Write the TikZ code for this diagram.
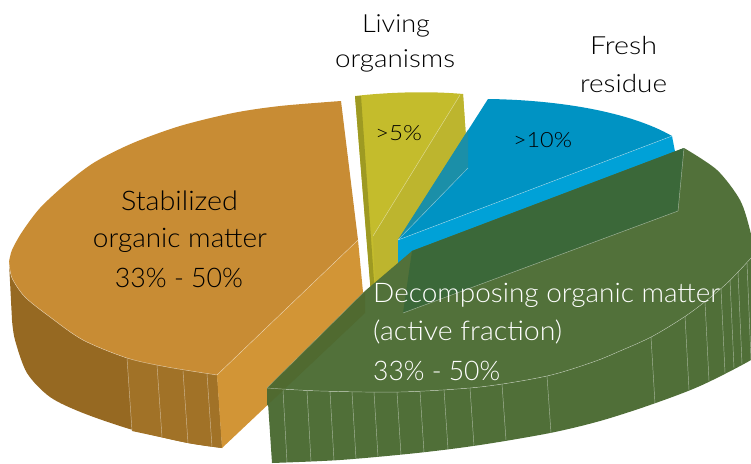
\documentclass[tikz,border=0pt]{standalone}
\usepackage{fontspec}
\usepackage{graphicx}
\IfFontExistsTF{Lato Light}{\setmainfont{Lato Light}}{\setmainfont{Lato}}
\newcommand{\fitw}[2]{\resizebox{#1}{\height}{#2}}
\definecolor{orTop}{HTML}{C88C34}
\definecolor{orSide}{HTML}{D29536}
\definecolor{orWall}{HTML}{966922}
\definecolor{orWallL}{HTML}{A17227}
\definecolor{yelTop}{HTML}{C4BC2C}
\definecolor{yelSide}{HTML}{BDB52E}
\definecolor{yelStrip}{HTML}{9E9A22}
\definecolor{bluTop}{HTML}{0093C3}
\definecolor{bluStrip}{HTML}{00A1D7}
\definecolor{bluOver}{HTML}{1B8FA8}
\definecolor{grTop}{HTML}{52713A}
\definecolor{grDark}{HTML}{3B6839}
\definecolor{grWall}{HTML}{506F38}
\definecolor{grBand}{HTML}{506A30}
\begin{document}
\begin{tikzpicture}[x=1pt,y=-1pt,
  edge/.style={white, line width=0.45pt, opacity=0.5},
  big/.style={font=\fontsize{27}{30}\selectfont, inner sep=0pt, text=black},
  toplbl/.style={font=\fontsize{25}{28}\selectfont, inner sep=0pt, text=black},
  small/.style={font=\fontsize{21}{24}\selectfont, inner sep=0pt, text=black},
  bigw/.style={big, text=white}]
\useasboundingbox (0,0) rectangle (751,463);

% ---------- yellow slice (Living organisms)
\fill[yelTop] (355,96) .. controls (390,92) and (430,91) .. (463,94) -- (468,168) -- (398,240) -- (398,305) -- (372,305) -- cycle;
\fill[yelSide] (460,95) -- (463,94) -- (468,168) -- (398,240) -- (398,305) -- (376,305) -- (373,236) -- cycle;
\fill[yelStrip] (355,96) -- (361,96) -- (375,295) -- (371,295) -- cycle;
\draw[edge] (460,95) -- (373,236);

% ---------- blue slice (Fresh residue)
\fill[bluStrip] (672,136) -- (677,162) -- (398,268) -- (398,240) -- cycle;
\fill[bluTop] (488,99) .. controls (560,100) and (630,112) .. (672,136) -- (398,240) -- cycle;
\fill[bluOver] (468,130) -- (468,168) -- (398,240) -- cycle;
\draw[edge] (672,136) -- (398,240);
\draw[edge] (468,168) -- (398,240);

% ---------- orange slice (Stabilized organic matter)
\fill[orWall] plot[smooth] coordinates {(9,262) (12,278) (25,297) (50,317) (83,340) (127,358) (167,367) (217,375)}
  -- (222,448) -- plot[smooth] coordinates {(222,448) (188,443) (133,430) (83,413) (50,397) (27,373) (15,340) (12,320)} -- cycle;
\fill[orWallL] plot[smooth] coordinates {(127,358) (167,367) (217,375)} -- (222,448)
  -- plot[smooth] coordinates {(222,448) (188,443) (160,437) (132,431)} -- cycle;
\foreach \xa/\ya/\xb/\yb in {127/358/132/431, 157/365/162/437, 183/371/188/443, 207/374/212/447}
  \draw[edge] (\xa,\ya) -- (\xb,\yb);
\fill[orTop] plot[smooth] coordinates {(341,101) (280,106) (233,113) (180,126) (133,143) (95,162) (67,183) (40,208) (22,232) (12,250) (9,262)}
  -- plot[smooth] coordinates {(9,262) (12,278) (25,297) (50,317) (83,340) (127,358) (167,367) (217,375)}
  -- (358,240) -- cycle;
\fill[orSide] (217,375) -- (358,240) -- (365,313) -- (222,448) -- cycle;
\draw[edge] plot[smooth] coordinates {(9,262) (12,278) (25,297) (50,317) (83,340) (127,358) (167,367) (217,375)};
\draw[edge] (217,375) -- (358,240);

% ---------- green slice (Decomposing organic matter)
\fill[grWall] plot[smooth] coordinates {(754,252) (751,258) (725,285) (690,313) (653,336) (620,351) (593,362) (547,376) (480,387) (400,392) (320,391) (267,388)}
  -- (272,463) -- plot[smooth] coordinates {(272,463) (340,460) (417,453) (480,445) (550,433) (600,421) (650,405) (700,386) (751,360) (770,345)}
  -- (770,252) -- cycle;
\foreach \xa/\ya/\xb/\yb in {283/390/287/462.5, 307/391/311/461.5, 330/391.5/334/460.5, 352/392/356/459,
  374/392/378/457, 397/392/401/455, 420/391/424/452.5, 444/389.5/448/449, 470/388/474/446, 502/384/506/440,
  547/376/551/433, 651/337/655/404, 685/316/689/390, 705/302/709/381, 721/289/725/373, 730/280/734/368,
  738/272/742/364, 747/263/751/360}
  \draw[edge] (\xa,\ya) -- (\xb,\yb);
\fill[grTop] (267,388) -- (365,291) -- (412,251) -- (684,148)
  -- plot[smooth] coordinates {(684,148) (717,170) (740,200) (750,230) (754,252)}
  -- plot[smooth] coordinates {(754,252) (751,258) (725,285) (690,313) (653,336) (620,351) (593,362) (547,376) (480,387) (400,392) (320,391) (267,388)}
  -- cycle;
\fill[grDark] (412,251) -- (684,148) -- (678,211) -- (403,313) -- cycle;
\draw[edge] (684,148) -- (678,211) -- (403,313);
\fill[grBand] (267,388) -- (365,291) -- (365,313) -- (267,405.5) -- cycle;
\draw[edge] plot[smooth] coordinates {(751,258) (725,285) (690,313) (653,336) (620,351) (593,362) (547,376) (480,387) (400,392) (320,391) (267,388)};
\draw[edge, opacity=0.3] (267,388) -- (365,291);

% ---------- labels
\node[toplbl, anchor=base] (liv1) at (396,32) {\fitw{68pt}{Living}};
\node[toplbl, anchor=base] (liv2) at (395,67) {\fitw{120pt}{organisms}};
\node[toplbl, anchor=base] (fre1) at (623.5,54) {\fitw{67pt}{Fresh}};
\node[toplbl, anchor=base] (fre2) at (623.5,92) {\fitw{87pt}{residue}};
\node[small, anchor=base] (p5) at (398.5,140) {\fitw{47pt}{>5\%}};
\node[small, anchor=base] (p10) at (542.5,147) {\fitw{59pt}{>10\%}};
\node[big, anchor=base] (st1) at (179.5,210) {\fitw{117pt}{Stabilized}};
\node[big, anchor=base] (st2) at (180,247) {\fitw{174pt}{organic matter}};
\node[big, anchor=base] (st3) at (179,287) {\fitw{128pt}{33\% - 50\%}};
\node[bigw, anchor=base west] (de1) at (373,302) {\fitw{347pt}{Decomposing organic matter}};
\node[bigw, anchor=base west] (de2) at (373,340) {\fitw{189pt}{(active fraction)}};
\node[bigw, anchor=base west] (de3) at (373,380) {\fitw{127pt}{33\% - 50\%}};
\end{tikzpicture}
\end{document}
